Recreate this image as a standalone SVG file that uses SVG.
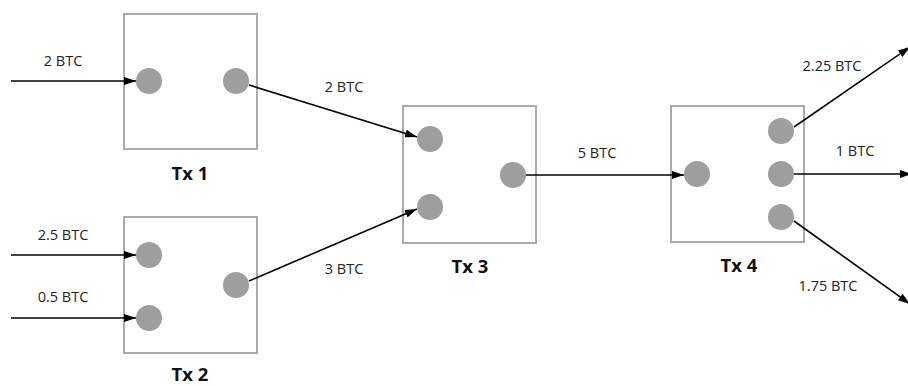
<svg xmlns="http://www.w3.org/2000/svg" width="908" height="386" viewBox="0 0 908 386">
<style>
.box{fill:#fff;stroke:#aaaaaa;stroke-width:2}
.dot{fill:#9e9e9e}
.lbl{font-family:"Open Sans","Noto Sans",sans-serif;font-size:14.5px;fill:#222;text-anchor:middle}
.title{font-family:"Open Sans","Noto Sans",sans-serif;font-size:18.5px;font-weight:bold;fill:#111;text-anchor:middle}
.edge{stroke:#000;stroke-width:1.6;fill:none}
</style>
<defs>
<marker id="arr" viewBox="0 0 12 8" refX="12" refY="4" markerWidth="12" markerHeight="8" markerUnits="userSpaceOnUse" orient="auto">
<path d="M0,0 L12,4 L0,8 z" fill="#000"/>
</marker>
</defs>
<rect width="908" height="386" fill="#fff"/>
<g id="tx1">
<rect class="box" x="124" y="14" width="133" height="135"/>
<circle class="dot" cx="149" cy="81" r="13"/>
<circle class="dot" cx="236" cy="81" r="13"/>
<text class="title" x="190" y="180">Tx 1</text>
</g>
<g id="tx2">
<rect class="box" x="124" y="217" width="133" height="136"/>
<circle class="dot" cx="149" cy="255" r="13"/>
<circle class="dot" cx="149" cy="318" r="13"/>
<circle class="dot" cx="236" cy="285" r="13"/>
<text class="title" x="190" y="381">Tx 2</text>
</g>
<g id="tx3">
<rect class="box" x="403" y="106" width="133" height="137"/>
<circle class="dot" cx="430" cy="139" r="13"/>
<circle class="dot" cx="430" cy="207" r="13"/>
<circle class="dot" cx="513" cy="175" r="13"/>
<text class="title" x="470" y="273">Tx 3</text>
</g>
<g id="tx4">
<rect class="box" x="671" y="106" width="133" height="136"/>
<circle class="dot" cx="697" cy="174" r="13"/>
<circle class="dot" cx="781" cy="131" r="13"/>
<circle class="dot" cx="781" cy="174" r="13"/>
<circle class="dot" cx="781" cy="217" r="13"/>
<text class="title" x="739" y="272">Tx 4</text>
</g>
<g id="connectors">
<line class="edge" x1="11" y1="81" x2="136" y2="81" marker-end="url(#arr)"/>
<line class="edge" x1="11" y1="255" x2="136" y2="255" marker-end="url(#arr)"/>
<line class="edge" x1="11" y1="318" x2="136" y2="318" marker-end="url(#arr)"/>
<line class="edge" x1="249" y1="85" x2="417" y2="137" marker-end="url(#arr)"/>
<line class="edge" x1="249" y1="281" x2="417" y2="209" marker-end="url(#arr)"/>
<line class="edge" x1="526" y1="175" x2="684" y2="175" marker-end="url(#arr)"/>
<line class="edge" x1="794" y1="127" x2="910" y2="47" marker-end="url(#arr)"/>
<line class="edge" x1="794" y1="174" x2="912" y2="174" marker-end="url(#arr)"/>
<line class="edge" x1="794" y1="221" x2="910" y2="304" marker-end="url(#arr)"/>
<text class="lbl" x="63" y="66">2 BTC</text>
<text class="lbl" x="63" y="240">2.5 BTC</text>
<text class="lbl" x="63" y="302">0.5 BTC</text>
<text class="lbl" x="344" y="92">2 BTC</text>
<text class="lbl" x="344" y="274">3 BTC</text>
<text class="lbl" x="597" y="158">5 BTC</text>
<text class="lbl" x="832" y="71">2.25 BTC</text>
<text class="lbl" x="855" y="156">1 BTC</text>
<text class="lbl" x="828" y="291">1.75 BTC</text>
</g>
</svg>
